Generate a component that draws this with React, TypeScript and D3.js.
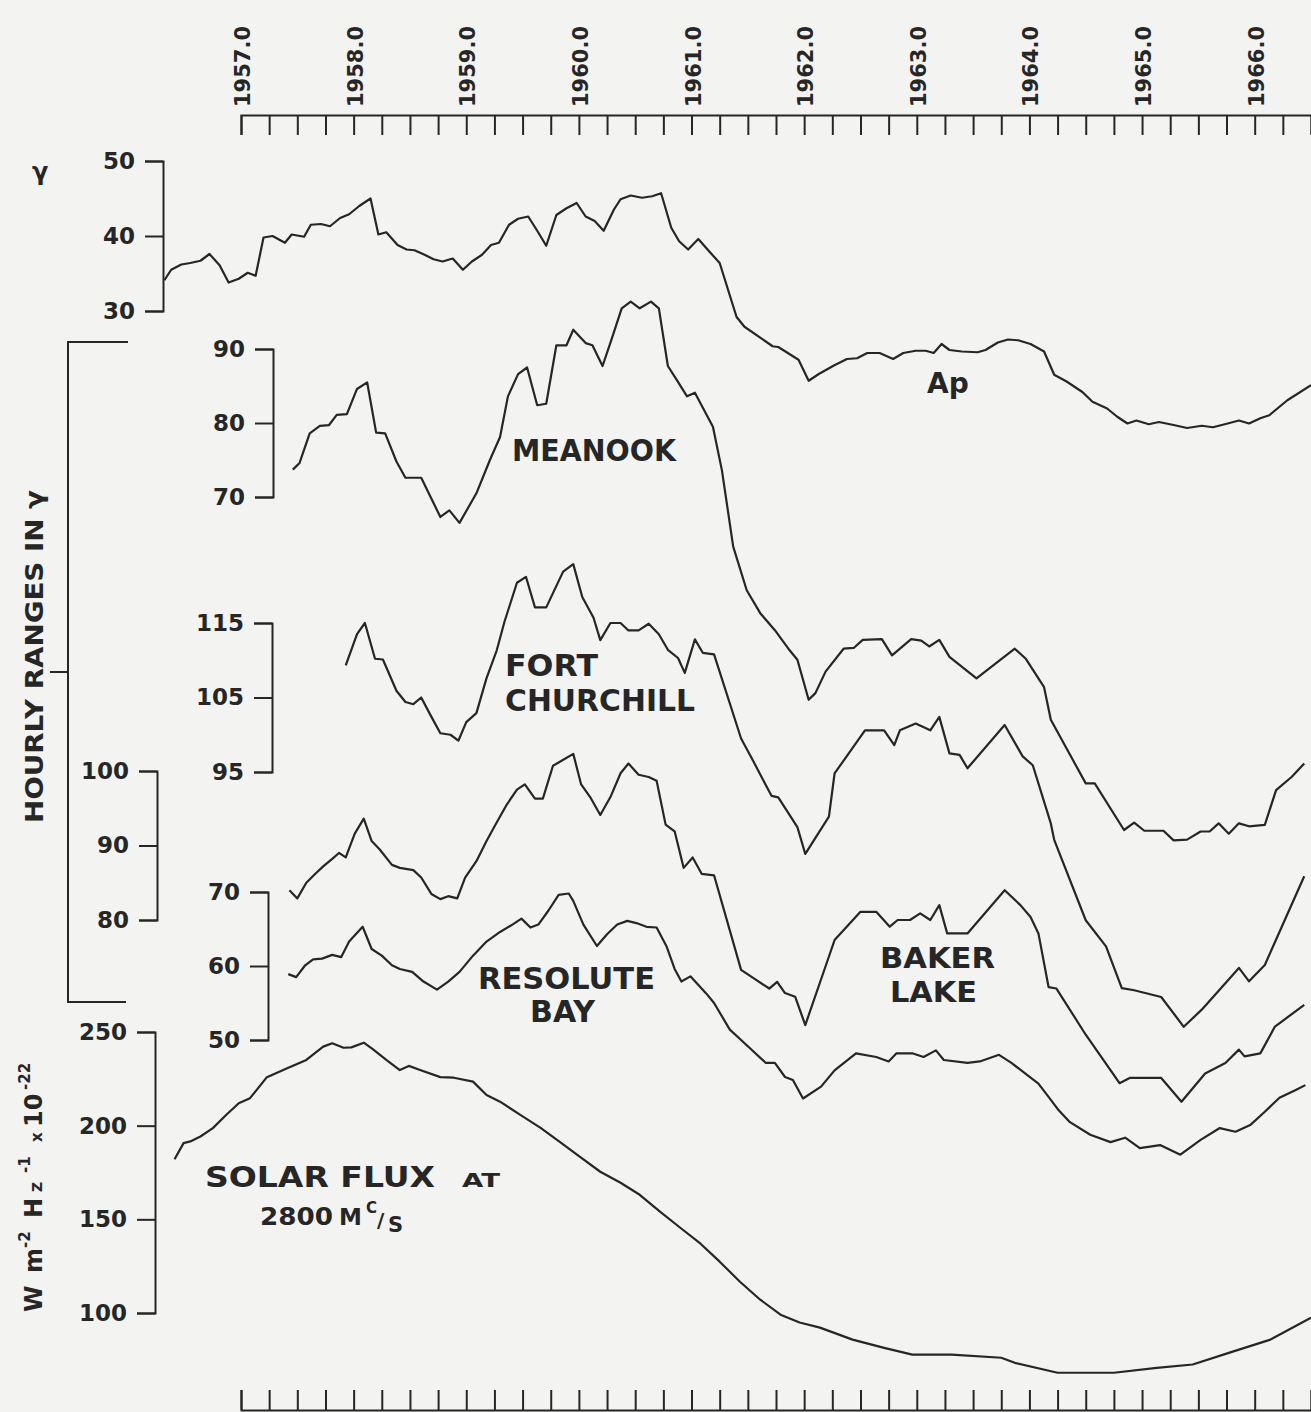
import { useEffect, useRef } from "react"
import * as d3 from "d3"

// [year, value], roughly monthly
const apData: [number, number][] = [
  [1956.32, 34.1], [1956.38, 35.5], [1956.47, 36.2], [1956.55, 36.4], [1956.64, 36.7], [1956.72, 37.6],
  [1956.81, 36.1], [1956.89, 33.8], [1956.98, 34.3], [1957.06, 35.1], [1957.13, 34.7], [1957.2, 39.8],
  [1957.28, 40.0], [1957.39, 39.1], [1957.45, 40.2], [1957.56, 39.9], [1957.62, 41.5], [1957.71, 41.6],
  [1957.79, 41.3], [1957.88, 42.4], [1957.96, 42.9], [1958.05, 44.0], [1958.15, 45.0], [1958.22, 40.2],
  [1958.29, 40.5], [1958.39, 38.8], [1958.47, 38.2], [1958.54, 38.1], [1958.63, 37.5], [1958.71, 36.9],
  [1958.79, 36.6], [1958.88, 37.0], [1958.97, 35.5], [1959.05, 36.6], [1959.14, 37.5], [1959.22, 38.8],
  [1959.29, 39.1], [1959.38, 41.5], [1959.46, 42.3], [1959.55, 42.6], [1959.63, 40.7], [1959.71, 38.7],
  [1959.8, 42.8], [1959.89, 43.7], [1959.98, 44.4], [1960.06, 42.6], [1960.14, 42.0], [1960.22, 40.7],
  [1960.31, 43.5], [1960.37, 44.9], [1960.46, 45.4], [1960.56, 45.1], [1960.65, 45.3], [1960.73, 45.7],
  [1960.82, 41.1], [1960.89, 39.3], [1960.97, 38.2], [1961.06, 39.6], [1961.16, 37.9], [1961.25, 36.4],
  [1961.4, 29.2], [1961.47, 27.9], [1961.72, 25.3], [1961.77, 25.2], [1961.95, 23.5], [1962.04, 20.7],
  [1962.13, 21.6], [1962.26, 22.7], [1962.38, 23.6], [1962.47, 23.7], [1962.56, 24.4], [1962.67, 24.4],
  [1962.79, 23.6], [1962.88, 24.4], [1962.99, 24.7], [1963.08, 24.7], [1963.15, 24.4], [1963.22, 25.6],
  [1963.29, 24.8], [1963.4, 24.6], [1963.54, 24.5], [1963.61, 24.8], [1963.72, 25.8], [1963.81, 26.2],
  [1963.9, 26.1], [1964.01, 25.6], [1964.13, 24.6], [1964.22, 21.5], [1964.33, 20.6], [1964.47, 19.2],
  [1964.56, 17.9], [1964.69, 17.0], [1964.78, 15.9], [1964.87, 15.0], [1964.95, 15.4], [1965.06, 14.9],
  [1965.15, 15.2], [1965.28, 14.8], [1965.4, 14.4], [1965.53, 14.7], [1965.63, 14.5], [1965.76, 15.0],
  [1965.86, 15.4], [1965.95, 15.0], [1966.05, 15.7], [1966.13, 16.1], [1966.29, 18.1], [1966.5, 20.1],
]

const meanookData: [number, number][] = [
  [1957.46, 73.7], [1957.52, 74.6], [1957.61, 78.6], [1957.7, 79.6], [1957.78, 79.7], [1957.85, 81.1],
  [1957.94, 81.2], [1958.03, 84.6], [1958.12, 85.5], [1958.2, 78.7], [1958.28, 78.6], [1958.38, 74.8],
  [1958.46, 72.6], [1958.6, 72.6], [1958.77, 67.3], [1958.85, 68.2], [1958.94, 66.5], [1959.09, 70.5],
  [1959.21, 75.0], [1959.3, 78.1], [1959.37, 83.6], [1959.46, 86.6], [1959.54, 87.5], [1959.63, 82.4],
  [1959.71, 82.6], [1959.8, 90.5], [1959.89, 90.5], [1959.95, 92.6], [1960.06, 90.8], [1960.12, 90.5],
  [1960.21, 87.7], [1960.29, 91.3], [1960.38, 95.5], [1960.46, 96.4], [1960.54, 95.5], [1960.64, 96.4],
  [1960.71, 95.5], [1960.79, 87.7], [1960.87, 85.8], [1960.96, 83.6], [1961.03, 84.1], [1961.19, 79.5],
  [1961.27, 73.6], [1961.37, 63.3], [1961.49, 57.4], [1961.61, 54.3], [1961.74, 52.0], [1961.86, 49.5],
  [1961.94, 48.0], [1962.04, 42.6], [1962.1, 43.5], [1962.19, 46.4], [1962.35, 49.5], [1962.44, 49.6],
  [1962.52, 50.7], [1962.69, 50.8], [1962.78, 48.6], [1962.95, 50.8], [1963.04, 50.6], [1963.11, 49.8],
  [1963.2, 50.7], [1963.29, 48.4], [1963.53, 45.5], [1963.87, 49.5], [1963.97, 48.1], [1964.13, 44.3],
  [1964.19, 39.9], [1964.5, 31.3], [1964.58, 31.3], [1964.84, 25.0], [1964.93, 26.0], [1965.02, 24.9],
  [1965.19, 24.9], [1965.28, 23.6], [1965.4, 23.7], [1965.52, 24.8], [1965.6, 24.8], [1965.68, 25.9],
  [1965.77, 24.5], [1965.86, 25.9], [1965.95, 25.5], [1966.09, 25.7], [1966.19, 30.4], [1966.33, 32.2],
  [1966.44, 34.0],
]

const fortChurchillData: [number, number][] = [
  [1957.93, 109.3], [1958.03, 113.5], [1958.1, 115.0], [1958.19, 110.2], [1958.26, 110.1], [1958.38, 105.9],
  [1958.46, 104.4], [1958.53, 104.1], [1958.6, 105.0], [1958.68, 102.7], [1958.77, 100.2], [1958.86, 100.0],
  [1958.93, 99.2], [1959.0, 101.7], [1959.09, 102.9], [1959.18, 107.6], [1959.27, 111.3], [1959.34, 115.2],
  [1959.45, 120.4], [1959.53, 121.2], [1959.61, 117.1], [1959.71, 117.1], [1959.86, 121.9], [1959.95, 122.9],
  [1960.03, 118.5], [1960.13, 115.7], [1960.19, 112.7], [1960.28, 115.0], [1960.37, 115.0], [1960.44, 114.0],
  [1960.53, 114.0], [1960.62, 114.9], [1960.71, 113.5], [1960.79, 111.4], [1960.88, 110.3], [1960.94, 108.3],
  [1961.03, 112.8], [1961.1, 111.0], [1961.2, 110.8], [1961.44, 99.5], [1961.55, 96.4], [1961.71, 91.8],
  [1961.77, 91.6], [1961.94, 87.6], [1962.01, 84.0], [1962.22, 89.0], [1962.27, 94.8], [1962.54, 100.6],
  [1962.71, 100.6], [1962.8, 98.6], [1962.85, 100.6], [1962.99, 101.5], [1963.12, 100.6], [1963.2, 102.4],
  [1963.29, 97.5], [1963.38, 97.3], [1963.45, 95.5], [1963.78, 101.3], [1963.94, 97.1], [1964.03, 95.9],
  [1964.19, 88.1], [1964.22, 85.9], [1964.5, 75.1], [1964.68, 71.6], [1964.82, 66.0], [1964.93, 65.7],
  [1965.17, 64.8], [1965.37, 60.8], [1965.53, 63.1], [1965.86, 68.7], [1965.95, 66.9], [1966.09, 69.1],
  [1966.44, 81.0],
]

const bakerLakeData: [number, number][] = [
  [1957.43, 84.0], [1957.5, 82.9], [1957.58, 85.0], [1957.66, 86.2], [1957.73, 87.2], [1957.81, 88.2],
  [1957.87, 89.0], [1957.93, 88.4], [1958.01, 91.6], [1958.09, 93.6], [1958.16, 90.6], [1958.23, 89.5],
  [1958.34, 87.4], [1958.41, 87.0], [1958.53, 86.7], [1958.6, 85.7], [1958.69, 83.5], [1958.77, 82.8],
  [1958.84, 83.2], [1958.92, 82.9], [1958.99, 85.7], [1959.09, 87.9], [1959.18, 90.6], [1959.27, 93.1],
  [1959.36, 95.5], [1959.45, 97.5], [1959.52, 98.2], [1959.61, 96.3], [1959.68, 96.3], [1959.77, 100.7],
  [1959.85, 101.4], [1959.95, 102.3], [1960.02, 98.2], [1960.1, 96.5], [1960.19, 94.1], [1960.28, 96.5],
  [1960.37, 99.7], [1960.44, 101.0], [1960.53, 99.5], [1960.62, 99.2], [1960.69, 98.7], [1960.77, 92.8],
  [1960.85, 91.9], [1960.93, 87.0], [1961.01, 88.4], [1961.09, 86.2], [1961.2, 86.0], [1961.44, 73.3],
  [1961.55, 72.2], [1961.69, 70.8], [1961.76, 71.7], [1961.83, 70.2], [1961.92, 69.7], [1962.01, 65.9],
  [1962.22, 75.1], [1962.27, 77.3], [1962.5, 81.1], [1962.64, 81.1], [1962.76, 79.1], [1962.83, 80.0],
  [1962.94, 80.0], [1963.03, 80.9], [1963.12, 80.0], [1963.2, 82.0], [1963.27, 78.2], [1963.45, 78.2],
  [1963.78, 84.0], [1963.92, 82.0], [1964.01, 80.4], [1964.08, 78.2], [1964.17, 71.0], [1964.24, 70.8],
  [1964.5, 64.6], [1964.8, 58.1], [1964.89, 58.8], [1965.17, 58.8], [1965.35, 55.6], [1965.56, 59.4],
  [1965.74, 60.8], [1965.86, 62.6], [1965.91, 61.7], [1966.05, 62.1], [1966.18, 65.7], [1966.44, 68.6],
]

const resoluteBayData: [number, number][] = [
  [1957.42, 58.9], [1957.49, 58.5], [1957.57, 60.1], [1957.64, 60.9], [1957.72, 61.0], [1957.81, 61.5],
  [1957.89, 61.2], [1957.96, 63.3], [1958.08, 65.3], [1958.16, 62.3], [1958.25, 61.4], [1958.34, 60.1],
  [1958.41, 59.6], [1958.52, 59.2], [1958.62, 57.9], [1958.74, 56.8], [1958.84, 57.9], [1958.94, 59.2],
  [1959.06, 61.4], [1959.18, 63.3], [1959.3, 64.6], [1959.4, 65.5], [1959.49, 66.4], [1959.57, 65.2],
  [1959.64, 65.6], [1959.73, 67.5], [1959.82, 69.6], [1959.91, 69.8], [1959.95, 68.8], [1960.04, 65.6],
  [1960.16, 62.7], [1960.25, 64.3], [1960.34, 65.6], [1960.43, 66.1], [1960.51, 65.8], [1960.6, 65.3],
  [1960.69, 65.2], [1960.78, 62.6], [1960.85, 59.6], [1960.91, 57.9], [1960.99, 58.6], [1961.13, 56.3],
  [1961.2, 55.0], [1961.34, 51.4], [1961.44, 50.0], [1961.66, 46.9], [1961.74, 46.9], [1961.83, 45.0],
  [1961.9, 44.6], [1961.99, 42.1], [1962.15, 43.7], [1962.27, 45.9], [1962.46, 48.2], [1962.64, 47.7],
  [1962.75, 47.1], [1962.82, 48.2], [1962.96, 48.2], [1963.06, 47.7], [1963.17, 48.6], [1963.24, 47.3],
  [1963.45, 46.9], [1963.56, 47.1], [1963.73, 48.0], [1963.84, 46.9], [1964.08, 44.1], [1964.19, 41.9],
  [1964.26, 40.5], [1964.36, 38.9], [1964.54, 37.2], [1964.72, 36.2], [1964.85, 36.8], [1964.98, 35.4],
  [1965.16, 35.8], [1965.34, 34.5], [1965.52, 36.5], [1965.69, 38.1], [1965.83, 37.6], [1965.96, 38.5],
  [1966.09, 40.3], [1966.22, 42.2], [1966.36, 43.2], [1966.45, 43.9],
]

const solarFluxData: [number, number][] = [
  [1956.41, 182.1], [1956.49, 190.7], [1956.55, 191.6], [1956.64, 194.2], [1956.75, 198.7], [1956.87, 205.8],
  [1956.98, 212.0], [1957.08, 214.7], [1957.23, 225.9], [1957.41, 230.7], [1957.58, 235.1], [1957.73, 242.2],
  [1957.81, 244.0], [1957.91, 241.6], [1957.98, 241.8], [1958.09, 244.3], [1958.17, 240.8], [1958.29, 235.1],
  [1958.41, 229.7], [1958.49, 231.9], [1958.59, 229.7], [1958.77, 225.9], [1958.89, 225.6], [1959.06, 223.5],
  [1959.18, 216.4], [1959.3, 212.8], [1959.48, 205.8], [1959.66, 198.8], [1959.83, 191.4], [1960.01, 183.4],
  [1960.19, 175.4], [1960.37, 169.5], [1960.54, 163.1], [1960.72, 154.1], [1960.9, 145.5], [1961.08, 137.0],
  [1961.25, 127.4], [1961.43, 116.7], [1961.61, 107.1], [1961.79, 99.1], [1961.96, 94.9], [1962.14, 92.2],
  [1962.43, 85.8], [1962.71, 81.4], [1962.96, 77.8], [1963.31, 77.8], [1963.75, 76.1], [1963.87, 73.4],
  [1964.25, 68.1], [1964.75, 68.1], [1965.13, 70.7], [1965.45, 72.5], [1965.77, 78.7], [1966.14, 85.8],
  [1966.5, 97.5],
]

const yearLabels = [1957, 1958, 1959, 1960, 1961, 1962, 1963, 1964, 1965, 1966]
const quarterTicks = d3.range(0, 39).map((i) => 1957 + i * 0.25)

const apTicks = [30, 40, 50]
const meanookTicks = [70, 80, 90]
const fortChurchillTicks = [95, 105, 115]
const bakerLakeTicks = [80, 90, 100]
const resoluteBayTicks = [50, 60, 70]
const solarTicks = [100, 150, 200, 250]

const INK = "#262626"
const FONT = "'DejaVu Sans', sans-serif"

export default function App() {
  const svgRef = useRef<SVGSVGElement>(null)

  useEffect(() => {
    if (!svgRef.current) return
    const svg = d3.select(svgRef.current)
    svg.selectAll("*").remove()

    svg.append("rect").attr("width", 1311).attr("height", 1412).attr("fill", "#f3f3f1")

    const x = d3.scaleLinear().domain([1957, 1966.5]).range([241, 1311])

    const styleAxis = (g) => {
      g.attr("font-family", FONT)
      g.selectAll("path, line").attr("stroke", INK).attr("stroke-width", 2)
      g.selectAll("text").attr("fill", INK).attr("font-size", 23).attr("font-weight", "bold")
    }

    // top time axis
    const top = svg
      .append("g")
      .attr("transform", "translate(0,115)")
      .call(d3.axisBottom(x).tickValues(quarterTicks).tickSize(20).tickSizeOuter(20).tickFormat(() => ""))
    styleAxis(top)

    svg
      .append("g")
      .selectAll("text")
      .data(yearLabels)
      .enter()
      .append("text")
      .attr("transform", (d) => `translate(${x(d) + 9},107) rotate(-90)`)
      .attr("font-family", FONT)
      .attr("font-size", 21)
      .attr("font-weight", "bold")
      .attr("fill", INK)
      .text((d) => d.toFixed(1))

    // bottom time axis
    const bottom = svg
      .append("g")
      .attr("transform", "translate(0,1410)")
      .call(d3.axisTop(x).tickValues(quarterTicks).tickSize(20).tickSizeOuter(20).tickFormat(() => ""))
    styleAxis(bottom)

    const series = [
      { data: apData, ticks: apTicks, axisX: 163, domain: [30, 50], range: [311, 161] },
      { data: meanookData, ticks: meanookTicks, axisX: 273, domain: [70, 90], range: [497, 349] },
      { data: fortChurchillData, ticks: fortChurchillTicks, axisX: 272, domain: [95, 115], range: [772, 623] },
      { data: bakerLakeData, ticks: bakerLakeTicks, axisX: 157, domain: [80, 100], range: [920, 771] },
      { data: resoluteBayData, ticks: resoluteBayTicks, axisX: 268, domain: [50, 70], range: [1040, 892] },
      { data: solarFluxData, ticks: solarTicks, axisX: 155, domain: [100, 250], range: [1313, 1032] },
    ]

    series.forEach((s) => {
      const y = d3.scaleLinear().domain(s.domain).range(s.range)
      const ax = svg
        .append("g")
        .attr("transform", `translate(${s.axisX},0)`)
        .call(d3.axisLeft(y).tickValues(s.ticks).tickSize(18).tickSizeOuter(18).tickPadding(10))
      styleAxis(ax)

      const line = d3
        .line<[number, number]>()
        .x((d) => x(d[0]))
        .y((d) => y(d[1]))
      svg
        .append("path")
        .datum(s.data)
        .attr("d", line)
        .attr("fill", "none")
        .attr("stroke", INK)
        .attr("stroke-width", 2.2)
        .attr("stroke-linejoin", "round")
    })

    // bracket grouping the hourly-range panels
    svg
      .append("path")
      .attr("d", "M128,342 H68 V1002 H126 M50,672 H68")
      .attr("fill", "none")
      .attr("stroke", INK)
      .attr("stroke-width", 2)

    const label = (txt, lx, ly, size, len?) => {
      const t = svg
        .append("text")
        .attr("x", lx)
        .attr("y", ly)
        .attr("font-family", FONT)
        .attr("font-size", size)
        .attr("font-weight", "bold")
        .attr("fill", INK)
        .text(txt)
      if (len) t.attr("textLength", len).attr("lengthAdjust", "spacingAndGlyphs")
      return t
    }

    label("γ", 32, 180, 24)
    label("Ap", 927, 393, 28)
    label("MEANOOK", 512, 461, 30, 164)
    label("FORT", 505, 676, 30, 93)
    label("CHURCHILL", 505, 711, 30, 190)
    label("RESOLUTE", 478, 989, 30, 177)
    label("BAY", 530, 1022, 30, 65)
    label("BAKER", 880, 968, 29, 115)
    label("LAKE", 890, 1002, 29, 87)
    label("SOLAR FLUX", 205, 1187, 29, 230)
    label("AT", 462, 1187, 20, 38)
    label("2800", 260, 1225, 24, 73)
    label("M", 339, 1225, 23)
    label("C", 366, 1213, 15)
    label("/", 377, 1227, 20)
    label("S", 388, 1232, 21)

    // rotated left-hand titles
    const hr = svg.append("g").attr("transform", "translate(43,823) rotate(-90)")
    hr.append("text")
      .attr("font-family", FONT)
      .attr("font-size", 25)
      .attr("font-weight", "bold")
      .attr("fill", INK)
      .attr("textLength", 333)
      .attr("lengthAdjust", "spacingAndGlyphs")
      .text("HOURLY RANGES IN γ")

    const unit = svg.append("g").attr("transform", "translate(42,1312) rotate(-90)")
    const unitParts: [string, number, number, number][] = [
      ["W", 0, 0, 24],
      ["m", 39, 0, 24],
      ["-2", 64, -12, 15],
      ["H", 94, 0, 24],
      ["Z", 120, 0, 14],
      ["-1", 139, -12, 15],
      ["x", 170, 0, 15],
      ["10", 185, 0, 24],
      ["-22", 222, -12, 15],
    ]
    unit
      .selectAll("text")
      .data(unitParts)
      .enter()
      .append("text")
      .attr("x", (d) => d[1])
      .attr("y", (d) => d[2])
      .attr("font-family", FONT)
      .attr("font-size", (d) => d[3])
      .attr("font-weight", "bold")
      .attr("fill", INK)
      .text((d) => d[0])
  }, [])

  return (
    <svg
      ref={svgRef}
      width={1311}
      height={1412}
      style={{ position: "absolute", left: 0, top: 0, display: "block" }}
    />
  )
}
